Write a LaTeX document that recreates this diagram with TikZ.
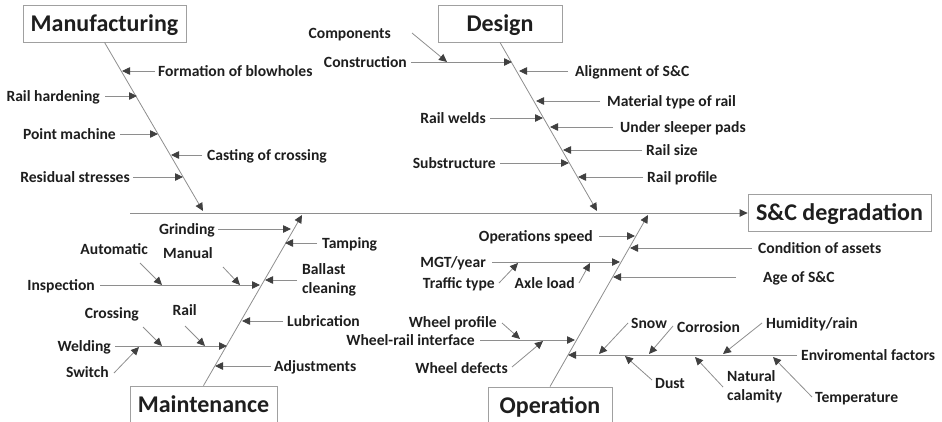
\documentclass[tikz,border=0pt]{standalone}
\usepackage{fontspec}
\setmainfont{Carlito}
\usetikzlibrary{arrows.meta}
\definecolor{ln}{HTML}{8E8E8E}
\definecolor{tipc}{HTML}{404040}
\definecolor{txt}{HTML}{1E1E1E}
\definecolor{bx}{HTML}{A0A0A0}
\tikzset{
  lbl/.style={font=\fontsize{15.6}{19}\selectfont\bfseries, text=txt, inner sep=0pt, text height=10.1pt, text depth=0pt},
  lblL/.style={lbl, anchor=east},
  lblR/.style={lbl, anchor=west},
  twoline/.style={font=\fontsize{15.6}{19}\selectfont\bfseries, text=txt, inner sep=0pt, align=left, anchor=west},
  arr/.style={draw=ln, line width=0.8pt, -{Triangle[length=8pt,width=7.5pt,color=tipc]}},
  lead/.style={shorten <=#1},
  lead/.default=4pt,
  title/.style={draw=bx, line width=0.8pt, font=\fontsize{24}{28}\selectfont\bfseries, text=txt,
    minimum height=37pt, inner sep=0pt, text height=15.6pt, text depth=0pt},
}
\begin{document}
\begin{tikzpicture}[x=1pt,y=-1pt]
\useasboundingbox (0,0) rectangle (942,421);

% category boxes and the effect box
\node[title, minimum width=163pt] (man) at (104.5,23.5) {Manufacturing};
\node[title, minimum width=124pt] (des) at (500,23.5) {Design};
\node[title, minimum width=183pt] (sc)  at (839.5,213) {S\&C degradation};
\node[title, minimum width=147pt] (mnt) at (203.5,404.5) {Maintenance};
\node[title, minimum width=124pt] (opn) at (550,405.5) {Operation};

% spine and main bones
\coordinate (spine0) at (130,213);
\draw[arr] (spine0) -- (sc.west);
\coordinate (manT) at (203,211);
\coordinate (desT) at (597,211);
\coordinate (mntT) at (302,215);
\coordinate (opnT) at (648,215);
\draw[arr] (man.south) -- (manT);
\draw[arr] (des.south) -- (desT);
\draw[arr] (mnt.north) -- (mntT);
\draw[arr] (opn.north) -- (opnT);

% ---------------- Manufacturing ----------------
\node[lblR] (blow)  at (158,71)  {Formation of blowholes};
\node[lblL] (hard)  at (100,96)  {Rail hardening};
\node[lblL] (point) at (116,134) {Point machine};
\node[lblR] (cast)  at (207,155) {Casting of crossing};
\node[lblL] (resid) at (130,177) {Residual stresses};
\coordinate (blowT)  at (122,71);
\coordinate (hardT)  at (137,96);
\coordinate (pointT) at (158,134);
\coordinate (castT)  at (171,155);
\coordinate (residT) at (183,177);
\draw[arr,lead=3pt] (blow.west) -- (blowT);
\draw[arr,lead=5pt] (hard.east) -- (hardT);
\draw[arr,lead] (point.east) -- (pointT);
\draw[arr,lead=5pt] (cast.west) -- (castT);
\draw[arr,lead=3pt] (resid.east) -- (residT);

% ---------------- Design ----------------
\node[lblL] (comp)   at (391,33)  {Components};
\node[lblL] (constr) at (407,62)  {Construction};
\node[lblR] (align)  at (575,71)  {Alignment of S\&C};
\node[lblR] (mat)    at (607,101) {Material type of rail};
\node[lblL] (welds)  at (486,118) {Rail welds};
\node[lblR] (usp)    at (620,127) {Under sleeper pads};
\node[lblR] (rsize)  at (646,150) {Rail size};
\node[lblL] (subst)  at (496,163) {Substructure};
\node[lblR] (rprof)  at (647,177) {Rail profile};
\coordinate (compT)   at (447,62);
\coordinate (constrT) at (512,62);
\coordinate (alignT)  at (519,71);
\coordinate (matT)    at (536,101);
\coordinate (weldsT)  at (543,118);
\coordinate (uspT)    at (550,127);
\coordinate (rsizeT)  at (563,150);
\coordinate (substT)  at (569,163);
\coordinate (rprofT)  at (578,177);
\draw[arr] (comp.east) ++(21,0) -- (compT);
\draw[arr,lead] (constr.east) -- (constrT);
\draw[arr,lead=7pt] (align.west) -- (alignT);
\draw[arr,lead=7pt] (mat.west) -- (matT);
\draw[arr,lead] (welds.east) -- (weldsT);
\draw[arr,lead=7pt] (usp.west) -- (uspT);
\draw[arr,lead] (rsize.west) -- (rsizeT);
\draw[arr,lead] (subst.east) -- (substT);
\draw[arr,lead] (rprof.west) -- (rprofT);

% ---------------- Maintenance ----------------
\node[lblL] (grind)   at (215,229) {Grinding};
\node[lblR] (tamp)    at (322,243) {Tamping};
\node[twoline] (ballast) at (302,280) {Ballast\\cleaning};
\node[lblL] (insp)    at (95,285)  {Inspection};
\node[lblL] (auto)    at (148,249) {Automatic};
\node[lblL] (manual)  at (213,253) {Manual};
\node[lblR] (lub)     at (287,321) {Lubrication};
\node[lblL] (cross)   at (139,313) {Crossing};
\node[lblL] (rail)    at (197,310) {Rail};
\node[lblL] (weld)    at (111,346) {Welding};
\node[lblL] (switch)  at (109,372) {Switch};
\node[lblR] (adj)     at (274,366) {Adjustments};
\coordinate (grindT)   at (291,229);
\coordinate (tampT)    at (285,243);
\coordinate (ballastT) at (265,280);
\coordinate (inspT)    at (260,285);
\coordinate (autoT)    at (162,285);
\coordinate (manualT)  at (240,285);
\coordinate (lubT)     at (242,321);
\coordinate (crossT)   at (162,346);
\coordinate (railT)    at (205,346);
\coordinate (weldT)    at (227,346);
\coordinate (switchT)  at (139,347);
\coordinate (adjT)     at (215,366);
\draw[arr,lead=3pt] (grind.east) -- (grindT);
\draw[arr,lead=5pt] (tamp.west) -- (tampT);
\draw[arr,lead=5pt] (ballast.west) -- (ballastT);
\draw[arr,lead=5pt] (insp.east) -- (inspT);
\draw[arr] (auto.east) ++(-8,14) -- (autoT);
\draw[arr] (manual.east) ++(10,14) -- (manualT);
\draw[arr,lead] (lub.west) -- (lubT);
\draw[arr] (cross.east) ++(4,14) -- (crossT);
\draw[arr] (rail.east) ++(-12,16) -- (railT);
\draw[arr,lead] (weld.east) -- (weldT);
\draw[arr] (switch.east) ++(5,1) -- (switchT);
\draw[arr,lead=3pt] (adj.west) -- (adjT);

% ---------------- Operation ----------------
\node[lblL] (ospeed)  at (593,236) {Operations speed};
\node[lblR] (cond)    at (758,248) {Condition of assets};
\node[lblL] (mgt)     at (486,262) {MGT/year};
\node[lblL] (traffic) at (495,283) {Traffic type};
\node[lblL] (axle)    at (575,283) {Axle load};
\node[lblR] (age)     at (763,277) {Age of S\&C};
\node[lblL] (wprof)   at (497,322) {Wheel profile};
\node[lblL] (wri)     at (475,340) {Wheel-rail interface};
\node[lblL] (wdef)    at (508,368) {Wheel defects};
\node[lblR] (env)     at (801,355) {Enviromental factors};
\node[lblR] (snow)    at (631,323) {Snow};
\node[lblR] (corr)    at (677,327) {Corrosion};
\node[lblR] (humid)   at (766,323) {Humidity/rain};
\node[lblR] (dust)    at (655,383) {Dust};
\node[twoline] (natural) at (727,387) {Natural\\calamity};
\node[lblR] (temp)    at (815,397) {Temperature};
\coordinate (ospeedT)  at (635,236);
\coordinate (condT)    at (630,248);
\coordinate (mgtT)     at (620,262);
\coordinate (trafficT) at (518,263);
\coordinate (axleT)    at (590,263);
\coordinate (ageT)     at (613,277);
\coordinate (wprofT)   at (520,339);
\coordinate (wriT)     at (575,340);
\coordinate (wdefT)    at (543,341);
\coordinate (envT)     at (568,355);
\coordinate (snowT)    at (599,354);
\coordinate (corrT)    at (649,354);
\coordinate (humidT)   at (723,354);
\coordinate (dustT)    at (625,356);
\coordinate (naturalT) at (695,357);
\coordinate (tempT)    at (773,357);
\draw[arr,lead=6pt] (ospeed.east) -- (ospeedT);
\draw[arr,lead=6pt] (cond.west) -- (condT);
\draw[arr,lead=6pt] (mgt.east) -- (mgtT);
\draw[arr] (traffic.east) ++(4,0) -- (trafficT);
\draw[arr] (axle.east) ++(4,0) -- (axleT);
\draw[arr,lead=27pt] (age.west) -- (ageT);
\draw[arr] (wprof.east) ++(5,1) -- (wprofT);
\draw[arr,lead=5pt] (wri.east) -- (wriT);
\draw[arr] (wdef.east) ++(4,-1) -- (wdefT);
\draw[arr,lead] (env.west) -- (envT);
\draw[arr] (snow.west) ++(-3,0) -- (snowT);
\draw[arr] (corr.west) ++(-4,-1) -- (corrT);
\draw[arr] (humid.west) ++(-4,0) -- (humidT);
\draw[arr] (dust.west) ++(-3,-3) -- (dustT);
\draw[arr] (natural.west) ++(-4,0) -- (naturalT);
\draw[arr] (temp.west) ++(-3,0) -- (tempT);
\end{tikzpicture}
\end{document}
